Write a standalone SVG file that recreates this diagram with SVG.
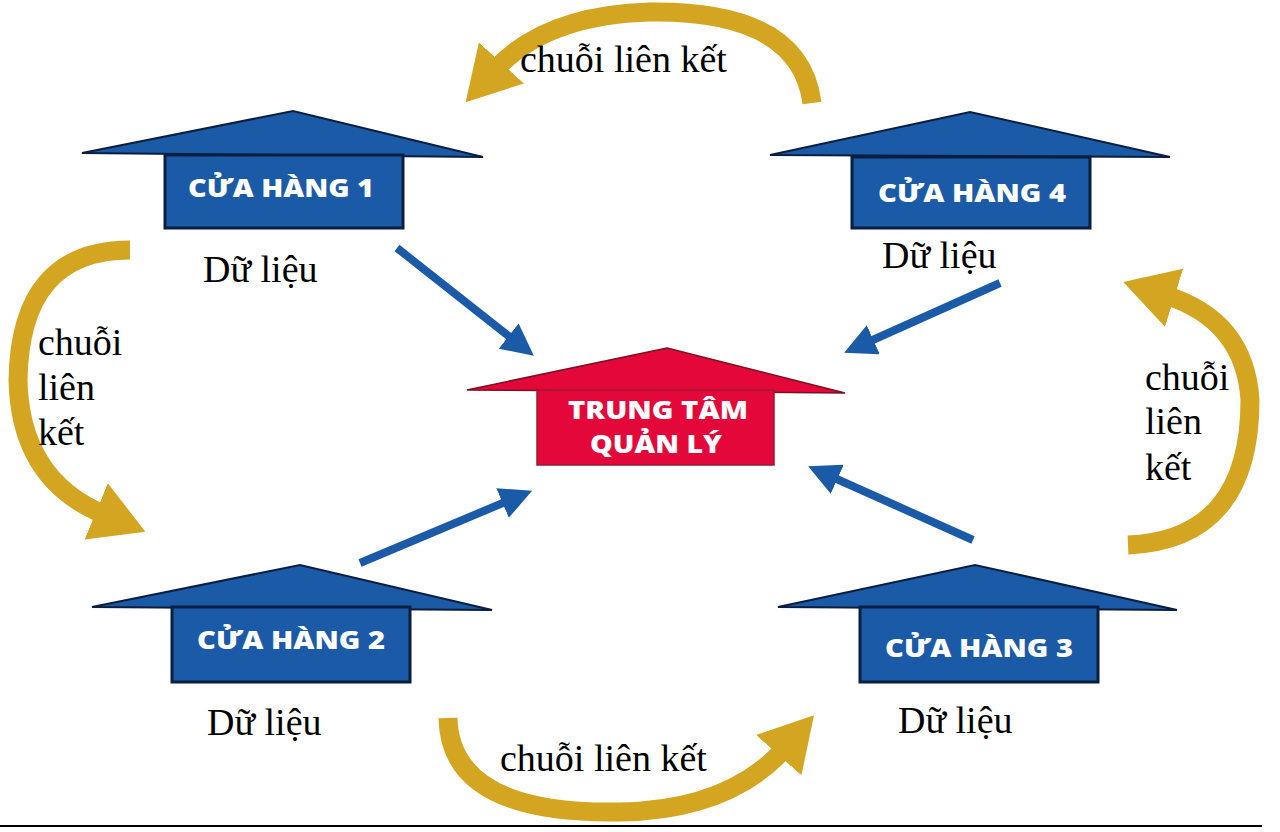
<svg xmlns="http://www.w3.org/2000/svg" width="1280" height="832" viewBox="0 0 1280 832">
<style>
.roof{fill:#1a5aa6;stroke:#0a1f3f;stroke-width:2}
.box{fill:#1a5aa6;stroke:#0a1f3f;stroke-width:3}
.croof{fill:#e4083a;stroke:#7a1020;stroke-width:1.5}
.cbox{fill:#e4083a;stroke:#9a1a30;stroke-width:1.5}
.lbl{font-family:"Open Sans","DejaVu Sans",sans-serif;font-weight:800;font-size:25px;fill:#fff;text-anchor:middle}
.t{font-family:"Liberation Serif",serif;font-size:38px;fill:#000}
.blue{stroke:#1a5aa6;stroke-width:8;fill:none;marker-end:url(#bh)}
.gold{stroke:#d4a520;stroke-width:19;fill:none;marker-end:url(#gh)}
</style>
<defs>
<marker id="bh" markerWidth="4" markerHeight="4" refX="1" refY="2" orient="auto" markerUnits="strokeWidth"><path d="M0,0 L4,2 L0,4 z" fill="#1a5aa6"/></marker>
<marker id="gh" markerWidth="2.8" markerHeight="3.2" refX="0.5" refY="1.6" orient="auto" markerUnits="strokeWidth"><path d="M0,0 L2.8,1.6 L0,3.2 z" fill="#d4a520"/></marker>
</defs>
<rect width="1280" height="832" fill="#fff"/>
<g id="connectors">
<line class="blue" x1="397" y1="248" x2="515" y2="341"/>
<line class="blue" x1="1000" y1="283" x2="866" y2="343"/>
<line class="blue" x1="360" y1="563" x2="510" y2="500"/>
<line class="blue" x1="973" y1="540" x2="830" y2="476"/>
<path class="gold" d="M812 103 Q800 10 650 12 Q545 15 495 70"/>
<path class="gold" d="M130 250 Q20 250 18 380 Q20 480 105 515"/>
<path class="gold" d="M448 718 Q450 815 620 812 Q730 810 785 748"/>
<path class="gold" d="M1128 545 Q1250 540 1250 400 Q1245 320 1165 295"/>
</g>
<g id="store1"><polygon class="roof" points="82,153 293,111 483,157"/><rect class="box" x="165" y="155" width="238" height="73"/><text class="lbl" x="281" y="197" textLength="186" lengthAdjust="spacingAndGlyphs">CỬA HÀNG 1</text></g>
<g id="store4"><polygon class="roof" points="770,155 970,112 1170,157"/><rect class="box" x="852" y="157" width="238" height="71"/><text class="lbl" x="972" y="202" textLength="188" lengthAdjust="spacingAndGlyphs">CỬA HÀNG 4</text></g>
<g id="store2"><polygon class="roof" points="92,607 300,565 492,610"/><rect class="box" x="172" y="607" width="238" height="75"/><text class="lbl" x="291" y="649" textLength="188" lengthAdjust="spacingAndGlyphs">CỬA HÀNG 2</text></g>
<g id="store3"><polygon class="roof" points="778,607 975,565 1177,610"/><rect class="box" x="860" y="607" width="238" height="75"/><text class="lbl" x="979" y="657" textLength="188" lengthAdjust="spacingAndGlyphs">CỬA HÀNG 3</text></g>
<g id="center"><polygon class="croof" points="467,390 667,348 845,393"/><rect class="cbox" x="537" y="390" width="237" height="75"/><text class="lbl" x="658" y="419" font-size="23" textLength="180" lengthAdjust="spacingAndGlyphs">TRUNG TÂM</text><text class="lbl" x="656" y="453" font-size="23" textLength="132" lengthAdjust="spacingAndGlyphs">QUẢN LÝ</text></g>
<g id="texts">
<text class="t" x="520" y="72">chuỗi liên kết</text>
<text class="t" x="500" y="771">chuỗi liên kết</text>
<text class="t" x="38" y="355">chuỗi</text><text class="t" x="38" y="400">liên</text><text class="t" x="38" y="445">kết</text>
<text class="t" x="1145" y="390">chuỗi</text><text class="t" x="1145" y="434">liên</text><text class="t" x="1145" y="480">kết</text>
<text class="t" x="203" y="282">Dữ liệu</text>
<text class="t" x="882" y="268">Dữ liệu</text>
<text class="t" x="207" y="735">Dữ liệu</text>
<text class="t" x="898" y="733">Dữ liệu</text>
</g>
<line x1="0" y1="826" x2="1262" y2="826" stroke="#000" stroke-width="2"/>
</svg>
